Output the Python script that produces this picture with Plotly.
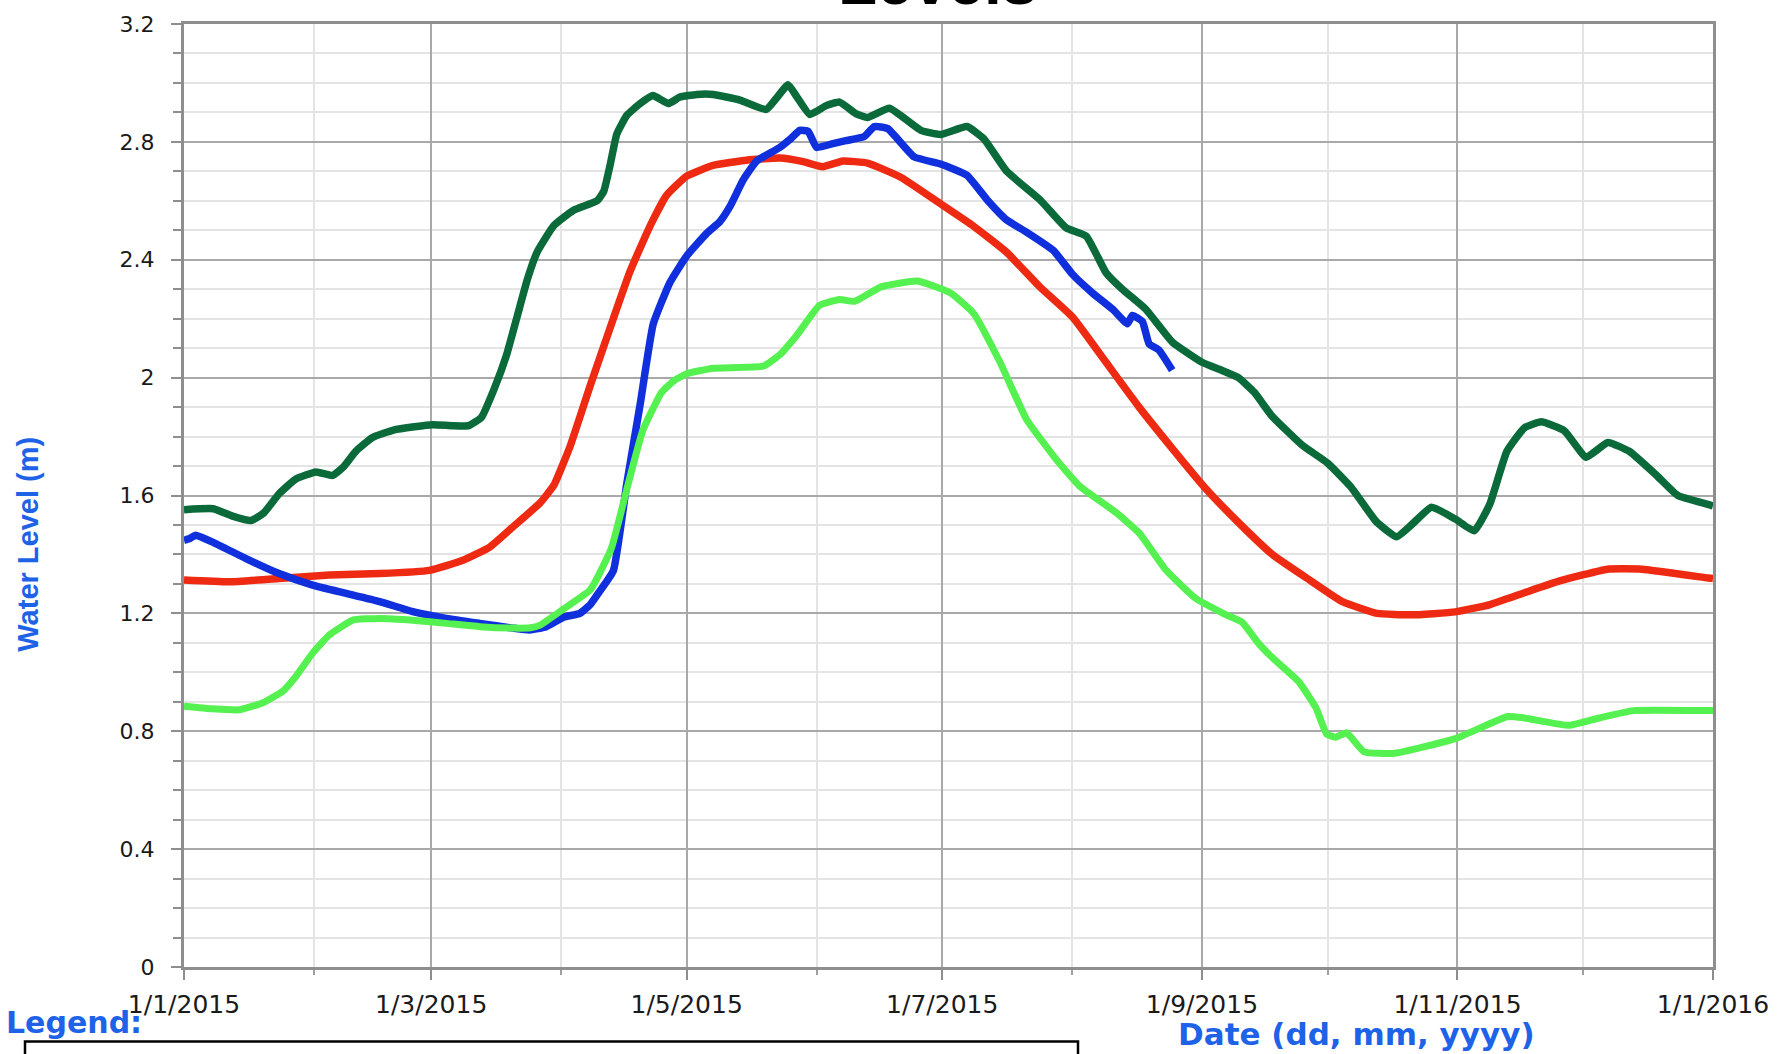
import pandas as pd
import plotly.graph_objects as go

BASE = pd.Timestamp("2015-01-01")

# ---- data (day offset from 1 Jan 2015, water level in m) ----
dg_day = [0, 7, 11.6, 16, 19, 22.7, 26.7, 31.5, 35.5, 38, 41, 45, 50, 55, 59.4, 64, 68, 71, 74, 77, 79.5,
          82, 84.3, 88.3, 93, 98.6, 100.2, 101.7, 103.3, 105.7, 108.9, 112, 115.6, 118.4, 122.4, 126.3,
          132.7, 139, 141.4, 144.2, 146.2, 149.4, 153.3, 156.5, 160.5, 163.2, 168.4, 175.9, 180.6, 186.9,
          190.9, 196.4, 204.3, 210.6, 215.4, 220.1, 224, 229.6, 235.9, 243, 247.7, 251.7, 255.5, 259.7,
          267, 273, 278.5, 284.7, 289.5, 293, 297.8, 303.5, 308, 311.7, 315.8, 320, 324, 329.5, 334.7,
          339.9, 345, 351.4, 356.6, 363.8, 365]
dg_val = [1.552, 1.555, 1.53, 1.515, 1.54, 1.606, 1.656, 1.68, 1.668, 1.696, 1.75, 1.797, 1.822, 1.833, 1.84,
          1.837, 1.837, 1.865, 1.96, 2.077, 2.206, 2.335, 2.426, 2.516, 2.568, 2.60, 2.632, 2.72, 2.826, 2.89,
          2.93, 2.957, 2.93, 2.952, 2.961, 2.961, 2.942, 2.91, 2.948, 2.994, 2.955, 2.893, 2.923, 2.935, 2.895,
          2.883, 2.914, 2.839, 2.825, 2.852, 2.811, 2.70, 2.604, 2.508, 2.48, 2.356, 2.30, 2.232, 2.121, 2.052,
          2.025, 2.0, 1.95, 1.87, 1.77, 1.71, 1.63, 1.51, 1.46, 1.50, 1.56, 1.52, 1.48, 1.57, 1.75, 1.83, 1.85,
          1.82, 1.73, 1.78, 1.75, 1.67, 1.60, 1.57, 1.565]

red_day = [0, 10.8, 22.7, 34.7, 46.7, 58.6, 66.6, 73, 78.5, 85, 88.3, 92.2, 97, 101.7, 106.5, 111.3, 115.2,
           120, 126.3, 134.3, 142.2, 147.8, 152.5, 157.3, 163.2, 171.1, 180.6, 188.5, 196.4, 204.3, 212.2,
           220.1, 228, 235.9, 243.5, 251.6, 259.8, 268, 276.5, 284.8, 293, 303.5, 311.8, 320, 328.4, 339.8,
           348, 363.8, 365]
red_val = [1.313, 1.307, 1.318, 1.33, 1.335, 1.346, 1.38, 1.425, 1.493, 1.575, 1.635, 1.768, 1.974, 2.168,
           2.361, 2.516, 2.619, 2.684, 2.72, 2.738, 2.745, 2.733, 2.716, 2.735, 2.728, 2.68, 2.59, 2.514, 2.425,
           2.308, 2.204, 2.052, 1.90, 1.76, 1.63, 1.51, 1.40, 1.32, 1.24, 1.20, 1.195, 1.205, 1.23, 1.27, 1.31,
           1.35, 1.35, 1.32, 1.318]

blue_day = [0, 1.2, 2.8, 6.8, 14.8, 22.7, 30.7, 38.7, 46.7, 54.6, 62.6, 70.6, 78.5, 82.5, 86.5, 90.6, 94.5,
            97, 99, 102.5, 105.7, 108.9, 112, 116, 120, 124.8, 127.9, 130.3, 133.5, 136.7, 142.2, 145, 147,
            149, 151, 154.9, 158, 162.4, 164.8, 168, 174.3, 180.6, 186.9, 191.7, 196.4, 201.1, 207.5, 212.2,
            216.9, 221.7, 225.2, 226.4, 228.8, 230.4, 232.7, 235.9]
blue_val = [1.448, 1.453, 1.465, 1.442, 1.386, 1.335, 1.296, 1.268, 1.24, 1.206, 1.183, 1.166, 1.15, 1.144,
            1.155, 1.187, 1.2, 1.23, 1.27, 1.345, 1.64, 1.91, 2.181, 2.323, 2.413, 2.49, 2.529, 2.58, 2.671,
            2.735, 2.781, 2.813, 2.839, 2.836, 2.781, 2.794, 2.804, 2.818, 2.852, 2.845, 2.749, 2.725, 2.687,
            2.604, 2.535, 2.494, 2.432, 2.349, 2.287, 2.232, 2.183, 2.211, 2.19, 2.114, 2.094, 2.025]

lg_day = [0, 6.8, 13.2, 18.7, 23.5, 26.7, 30.7, 34.7, 40.3, 46.7, 54.6, 62.6, 70.6, 78.5, 82.7, 85, 90.6, 97,
          102, 105.5, 109.5, 114, 117, 120, 126.3, 138.3, 142.2, 146.2, 151.7, 156.5, 160.1, 166.4, 175.1,
          183, 188.5, 194.8, 201.1, 208.3, 213.8, 222.5, 228, 234.3, 241.4, 248.5, 252.6, 256.4, 259.8, 266,
          270.2, 272.8, 275, 277.5, 281.7, 289, 303.5, 316, 320, 330.6, 337.8, 346, 363.8, 365]
lg_val = [0.885, 0.876, 0.873, 0.896, 0.935, 0.986, 1.065, 1.127, 1.177, 1.183, 1.177, 1.166, 1.155, 1.15,
          1.151, 1.16, 1.215, 1.28, 1.42, 1.61, 1.82, 1.95, 1.99, 2.013, 2.032, 2.039, 2.077, 2.142, 2.245,
          2.265, 2.259, 2.308, 2.328, 2.287, 2.218, 2.052, 1.859, 1.721, 1.632, 1.542, 1.473, 1.349, 1.252,
          1.197, 1.17, 1.10, 1.05, 0.97, 0.88, 0.79, 0.78, 0.795, 0.73, 0.725, 0.775, 0.85, 0.845, 0.82,
          0.845, 0.87, 0.87, 0.87]

series = [
    ("Station A", dg_day, dg_val, "#0b6a3a", 7.5),
    ("Station B", red_day, red_val, "#ee2a12", 7.5),
    ("Station C", blue_day, blue_val, "#0f30dc", 7.5),
    ("Station D", lg_day, lg_val, "#55f150", 7),
]


def to_dates(days):
    return [BASE + pd.Timedelta(days=d) for d in days]


W, H = 1784, 1054
ML, MR, MT, MB = 184, 71, 18, 87
PW = W - ML - MR
PH = H - MT - MB


def px_x(px):
    return (px - ML) / PW


def px_y(py):
    return (H - MB - py) / PH


fig = go.Figure()
for name, d, v, c, w in series:
    fig.add_trace(go.Scatter(x=to_dates(d), y=v, mode="lines", name=name,
                             line=dict(color=c, width=w, shape="spline", smoothing=0.4)))

BLUE_TXT = "#1e62e8"
GRID = "#a9a9a9"
MINOR = "#e4e4e4"
AXIS = "#8e8e8e"

fig.update_layout(
    width=W, height=H,
    margin=dict(l=ML, r=MR, t=MT, b=MB, pad=0),
    paper_bgcolor="white", plot_bgcolor="white",
    showlegend=False,
    xaxis=dict(
        type="date", range=["2015-01-01", "2016-01-01"], tick0="2015-01-01", dtick="M2",
        tickformat="%-d/%-m/%Y",
        showgrid=True, gridcolor=GRID, gridwidth=2,
        showline=True, linecolor=AXIS, linewidth=3, mirror=True,
        ticks="outside", ticklen=10, tickwidth=2, tickcolor=AXIS,
        minor=dict(dtick="M1", tick0="2015-01-01", showgrid=True, gridcolor=MINOR, gridwidth=2,
                   ticks="outside", ticklen=5, tickwidth=2, tickcolor="#a0a0a0"),
        tickfont=dict(family="DejaVu Sans", size=25, color="#1a1a1a"),
        ticklabelstandoff=3, zeroline=False,
    ),
    yaxis=dict(
        range=[0, 3.2], tick0=0, dtick=0.4,
        showgrid=True, gridcolor=GRID, gridwidth=2,
        showline=True, linecolor=AXIS, linewidth=3, mirror=True,
        ticks="outside", ticklen=10, tickwidth=2, tickcolor=AXIS,
        minor=dict(dtick=0.1, showgrid=True, gridcolor=MINOR, gridwidth=2,
                   ticks="outside", ticklen=8, tickwidth=2, tickcolor=AXIS),
        tickfont=dict(family="DejaVu Sans", size=22, color="#1a1a1a"),
        ticklabelstandoff=12, zeroline=False,
    ),
    annotations=[
        dict(text="<b>Levels</b>", x=px_x(937), y=px_y(14), xref="paper", yref="paper",
             xanchor="center", yanchor="bottom", showarrow=False,
             font=dict(family="Liberation Sans, Arial", size=64, color="black")),
        dict(text="<b>Water Level (m)</b>", x=px_x(28), y=px_y(542), xref="paper", yref="paper",
             xanchor="center", yanchor="middle", textangle=-90, showarrow=False,
             font=dict(family="Liberation Sans, Arial", size=29, color=BLUE_TXT)),
        dict(text="<b>Date (dd, mm, yyyy)</b>", x=px_x(1356), y=px_y(1034), xref="paper", yref="paper",
             xanchor="center", yanchor="middle", showarrow=False,
             font=dict(family="DejaVu Sans", size=31, color=BLUE_TXT)),
        dict(text="<b>Legend:</b>", x=px_x(4), y=px_y(1023), xref="paper", yref="paper",
             xanchor="left", yanchor="middle", showarrow=False,
             font=dict(family="DejaVu Sans", size=30, color=BLUE_TXT)),
    ],
    shapes=[
        dict(type="rect", xref="paper", yref="paper", x0=px_x(25), x1=px_x(1078),
             y0=px_y(1042), y1=px_y(1090), line=dict(color="black", width=2.5), fillcolor="rgba(0,0,0,0)"),
    ],
)

fig.write_html("out.html", config={"displayModeBar": False},
               post_script="document.body.style.margin='0';document.body.style.overflow='hidden';")
